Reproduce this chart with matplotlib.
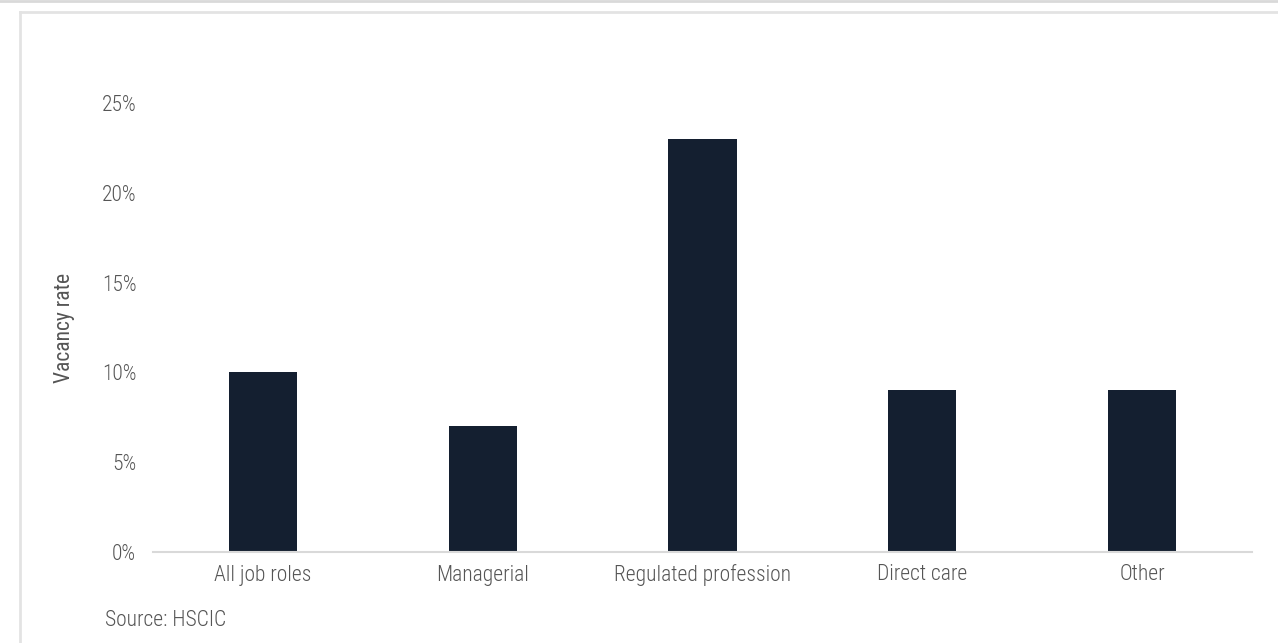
import matplotlib as mpl
mpl.use('Agg')
import matplotlib.pyplot as plt
from matplotlib.lines import Line2D

categories = ['All job roles', 'Managerial', 'Regulated profession', 'Direct care', 'Other']
vacancy = [10, 7, 23, 9, 9]
yticks = [0, 5, 10, 15, 20, 25]

plt.rcParams['font.family'] = ['Roboto Condensed', 'DejaVu Sans']
plt.rcParams['font.weight'] = 300
grey = '#555555'
fs = 15.5

fig = plt.figure(figsize=(12.78, 6.43), dpi=100)
# axes area: baseline x 153..1252, y from 552 (0%) to 103 (25%)
W, H = 1278, 643
ax = fig.add_axes([153 / W, 1 - 552 / H, (1252 - 153) / W, (552 - 103) / H])

ax.bar(range(len(categories)), vacancy, width=0.31, color='#141f30')
ax.set_xlim(-0.5, 4.5)
ax.set_ylim(0, 25)
ax.set_yticks(yticks)
ax.set_yticklabels([f'{t}%' for t in yticks])
ax.set_xticks(range(len(categories)))
ax.set_xticklabels(categories)
ax.tick_params(length=0, colors=grey, labelsize=fs)
ax.tick_params(axis='y', pad=12)
ax.tick_params(axis='x', pad=9)
for s in ['top', 'right', 'left']:
    ax.spines[s].set_visible(False)
ax.spines['bottom'].set_color('#d9d9d9')
ax.spines['bottom'].set_linewidth(1.5)
ax.set_ylabel('Vacancy rate', color=grey, fontsize=fs)
ax.yaxis.set_label_coords(-78 / 1099, 0.5)

fig.text(105 / W, 1 - 621 / H, 'Source: HSCIC', color=grey, fontsize=fs, va='center')

# frame lines around the chart
fig.add_artist(Line2D([0, 1], [1 - 0.5 / H, 1 - 0.5 / H], color='#d9d9d9', lw=2))
fig.add_artist(Line2D([20 / W, 1], [1 - 12 / H, 1 - 12 / H], color='#e3e3e3', lw=2))
fig.add_artist(Line2D([20 / W, 20 / W], [0, 1 - 12 / H], color='#e3e3e3', lw=2))

fig.savefig('out.png', dpi=100)
